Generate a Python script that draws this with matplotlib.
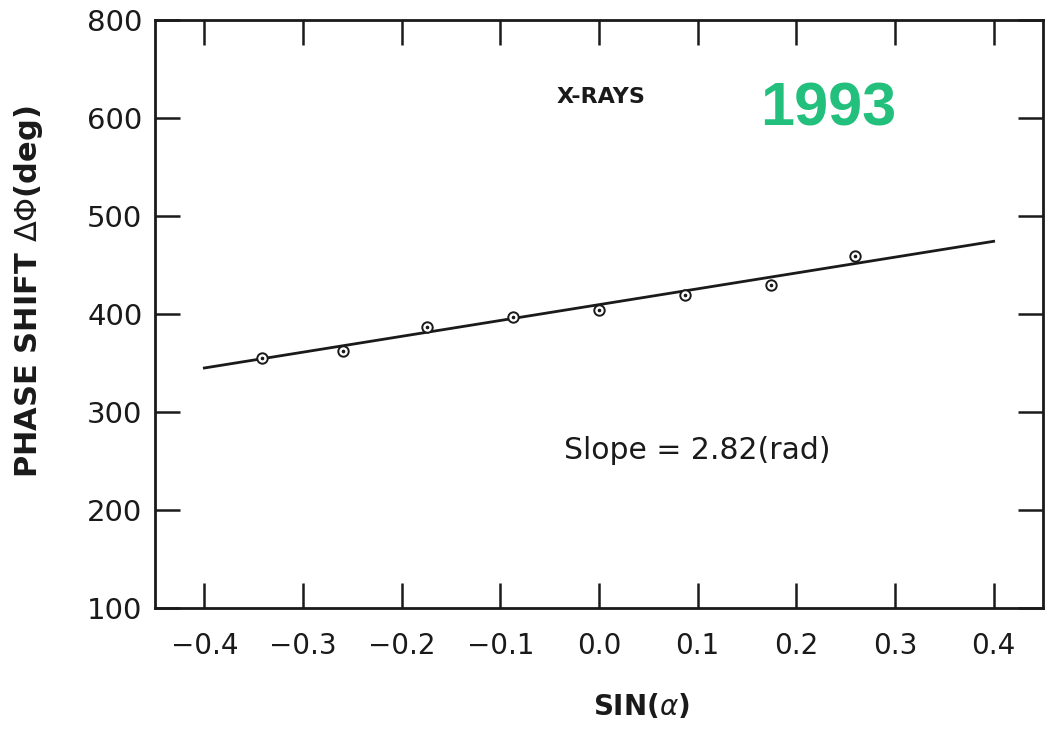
import numpy as np
import matplotlib as mpl
mpl.use('Agg')
import matplotlib.pyplot as plt

# measured phase shift vs sin(alpha), tilt steps of 5 deg
sin_alpha = [-0.342, -0.259, -0.174, -0.087, 0.0, 0.087, 0.174, 0.259]
phase_deg = [355, 362, 387, 397, 404, 419, 430, 459]

# straight-line fit, slope quoted in radians
slope_rad = 2.82
intercept_deg = 409.5
fit_x = [-0.4, 0.4]

xticks = [-0.4, -0.3, -0.2, -0.1, 0.0, 0.1, 0.2, 0.3, 0.4]
xtick_labels = ['\u22120.4', '\u22120.3', '\u22120.2', '\u22120.1',
                '0.0', '0.1', '0.2', '0.3', '0.4']
yticks = [100, 200, 300, 400, 500, 600, 700]
ytick_labels = ['100', '200', '300', '400', '500', '600', '800']

ink = '#1a1a1a'


def main():
    fig = plt.figure(figsize=(10.48, 7.31), dpi=100)
    ax = fig.add_axes([0.1479, 0.1683, 0.8473, 0.8044])

    slope_deg = np.degrees(slope_rad)
    fit_y = [intercept_deg + slope_deg * x for x in fit_x]
    ax.plot(fit_x, fit_y, color=ink, lw=2.0, zorder=2)

    ax.plot(sin_alpha, phase_deg, ls='none', marker='o', ms=7.5,
            mfc='white', mec=ink, mew=1.4, zorder=3)
    ax.plot(sin_alpha, phase_deg, ls='none', marker='o', ms=1.6,
            mfc=ink, mec=ink, zorder=4)

    ax.set_xlim(-0.45, 0.45)
    ax.set_ylim(100, 700)
    ax.set_xticks(xticks)
    ax.set_xticklabels(xtick_labels)
    ax.set_yticks(yticks)
    ax.set_yticklabels(ytick_labels)

    for side in ax.spines.values():
        side.set_linewidth(2.0)
        side.set_color(ink)
    ax.tick_params(direction='in', length=18, width=1.8, color=ink,
                   top=True, right=True, labelsize=20, labelcolor=ink)
    ax.tick_params(axis='x', pad=17)
    ax.tick_params(axis='y', pad=9)
    for lab in ax.get_yticklabels():
        lab.set_fontsize(21)

    ax.set_ylabel(r'PHASE SHIFT $\Delta\Phi$(deg)', fontsize=22,
                  fontweight='bold', color=ink)
    ax.yaxis.set_label_coords(-0.124, 0.537)
    ax.set_xlabel(r'SIN($\alpha$)', fontsize=20, fontweight='bold', color=ink)
    ax.xaxis.set_label_coords(0.548, -0.143)

    ax.text(0.002, 621, 'X-RAYS', ha='center', va='center', fontsize=16,
            fontweight='bold', color=ink)
    ax.text(0.232, 608, '1993', ha='center', va='center', fontsize=44,
            family='Liberation Sans', fontweight='bold', color='#22c07c')
    ax.text(-0.035, 261, 'Slope = 2.82(rad)', ha='left', va='center',
            fontsize=21.5, color=ink)

    plt.savefig('out.png', dpi=100)


if __name__ == '__main__':
    main()
